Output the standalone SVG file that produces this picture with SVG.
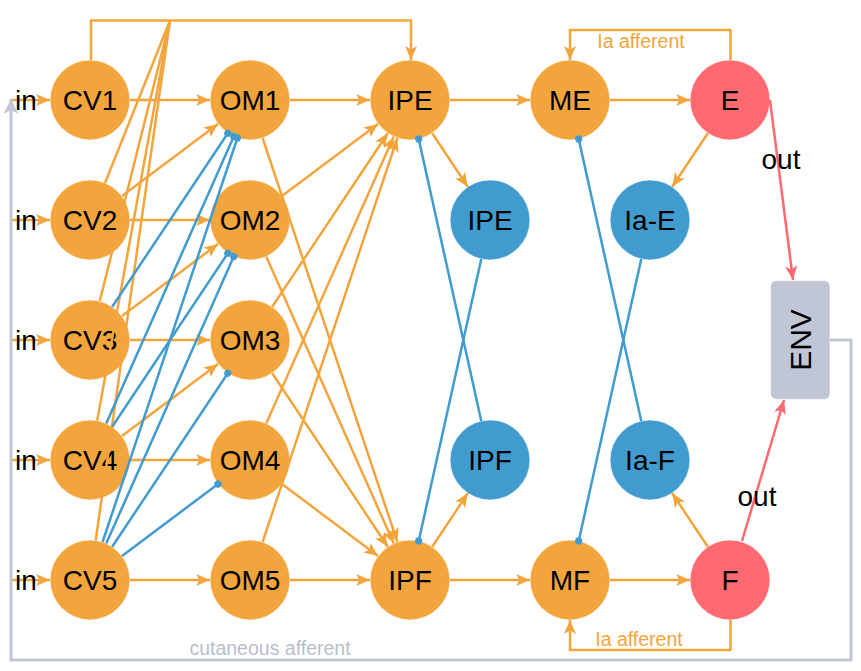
<svg xmlns="http://www.w3.org/2000/svg" width="861" height="671" viewBox="0 0 861 671">
<style>
.n circle{stroke:#fff;stroke-width:1.2;stroke-opacity:0.6}
.o{fill:#f3a53d}.b{fill:#429bcf}.r{fill:#ff6a70}
.n text,.lbl{font-family:"Liberation Sans",Arial,sans-serif;font-size:28px;fill:#000;text-anchor:middle}
.ex{stroke:#f3a53d;stroke-width:2.5;fill:none;marker-end:url(#ao)}
.ln{stroke:#f3a53d;stroke-width:2.5;fill:none}
.in{stroke:#429bcf;stroke-width:2.5;fill:none;marker-end:url(#dot)}
.rd{stroke:#ff6a70;stroke-width:2.5;fill:none;marker-end:url(#ar)}
.gy{stroke:#c1c6d7;stroke-width:3;fill:none;marker-end:url(#ag)}
.sm{font-family:"Liberation Sans",Arial,sans-serif;font-size:19.5px;text-anchor:middle}
</style>
<defs>
<marker id="ao" markerUnits="userSpaceOnUse" markerWidth="16" markerHeight="14" refX="14" refY="6" orient="auto"><path d="M0,0 L14,6 L0,12 L3.5,6 Z" fill="#f3a53d"/></marker>
<marker id="ar" markerUnits="userSpaceOnUse" markerWidth="16" markerHeight="14" refX="14" refY="6" orient="auto"><path d="M0,0 L14,6 L0,12 L3.5,6 Z" fill="#ff6a70"/></marker>
<marker id="ag" markerUnits="userSpaceOnUse" markerWidth="18" markerHeight="18" refX="15" refY="7.5" orient="auto"><path d="M0,0 L15,7.5 L0,15 L4,7.5 Z" fill="#c1c6d7"/></marker>
<marker id="dot" markerUnits="userSpaceOnUse" markerWidth="9" markerHeight="9" refX="4.5" refY="4.5" orient="auto"><circle cx="4.5" cy="4.5" r="3.6" fill="#429bcf"/></marker>
</defs>

<g id="CV1" class="n"><circle class="o" cx="90" cy="100" r="40"/><text x="90" y="110">CV1</text></g>
<g id="CV2" class="n"><circle class="o" cx="90" cy="220" r="40"/><text x="90" y="230">CV2</text></g>
<g id="CV3" class="n"><circle class="o" cx="90" cy="340" r="40"/><text x="90" y="350">CV3</text></g>
<g id="CV4" class="n"><circle class="o" cx="90" cy="460" r="40"/><text x="90" y="470">CV4</text></g>
<g id="CV5" class="n"><circle class="o" cx="90" cy="580" r="40"/><text x="90" y="590">CV5</text></g>
<g id="OM1" class="n"><circle class="o" cx="250" cy="100" r="40"/><text x="250" y="110">OM1</text></g>
<g id="OM2" class="n"><circle class="o" cx="250" cy="220" r="40"/><text x="250" y="230">OM2</text></g>
<g id="OM3" class="n"><circle class="o" cx="250" cy="340" r="40"/><text x="250" y="350">OM3</text></g>
<g id="OM4" class="n"><circle class="o" cx="250" cy="460" r="40"/><text x="250" y="470">OM4</text></g>
<g id="OM5" class="n"><circle class="o" cx="250" cy="580" r="40"/><text x="250" y="590">OM5</text></g>
<g id="IPE" class="n"><circle class="o" cx="410" cy="100" r="40"/><text x="410" y="110">IPE</text></g>
<g id="IPF" class="n"><circle class="o" cx="410" cy="580" r="40"/><text x="410" y="590">IPF</text></g>
<g id="IPE-b" class="n"><circle class="b" cx="490" cy="220" r="40"/><text x="490" y="230">IPE</text></g>
<g id="IPF-b" class="n"><circle class="b" cx="490" cy="460" r="40"/><text x="490" y="470">IPF</text></g>
<g id="ME" class="n"><circle class="o" cx="570" cy="100" r="40"/><text x="570" y="110">ME</text></g>
<g id="MF" class="n"><circle class="o" cx="570" cy="580" r="40"/><text x="570" y="590">MF</text></g>
<g id="Ia-E" class="n"><circle class="b" cx="650" cy="220" r="40"/><text x="650" y="230">Ia-E</text></g>
<g id="Ia-F" class="n"><circle class="b" cx="650" cy="460" r="40"/><text x="650" y="470">Ia-F</text></g>
<g id="E" class="n"><circle class="r" cx="730" cy="100" r="40"/><text x="730" y="110">E</text></g>
<g id="F" class="n"><circle class="r" cx="730" cy="580" r="40"/><text x="730" y="590">F</text></g>
<g id="ENV" class="n"><rect x="770.5" y="280.5" width="59.5" height="119" rx="6" fill="#c1c6d7" stroke="#fff" stroke-opacity="0.6"/><text transform="translate(800,340) rotate(-90)" x="0" y="10.7" style="font-size:30px">ENV</text></g>

<g id="connectors">
<path class="ex" d="M10,100H50"/><path class="ex" d="M10,220H50"/><path class="ex" d="M10,340H50"/><path class="ex" d="M10,460H50"/><path class="ex" d="M10,580H50"/>
<path class="ex" d="M130,100H210"/>
<path class="ex" d="M122,196L218,124"/>
<path class="ex" d="M130,220H210"/>
<path class="ex" d="M122,316L218,244"/>
<path class="ex" d="M130,340H210"/>
<path class="ex" d="M122,436L218,364"/>
<path class="ex" d="M130,460H210"/>
<path class="ex" d="M130,580H210"/>
<path class="ex" d="M91,60V20.5H411V60"/>
<path class="ln" d="M105,183L170,20.5"/>
<path class="ln" d="M99.8,301L170,20.5"/>
<path class="ln" d="M97.2,420.6L170,20.5"/>
<path class="ln" d="M95.7,540.4L170,20.5"/>
<path class="in" d="M112.2,306.7L227.8,133.3"/>
<path class="in" d="M106.2,423.5L233.8,136.5"/>
<path class="in" d="M102.6,542L237.4,138"/>
<path class="in" d="M112.2,426.7L227.8,253.3"/>
<path class="in" d="M106.2,543.5L233.8,256.5"/>
<path class="in" d="M112.2,546.7L227.8,373.3"/>
<path class="in" d="M122,556L218,484"/>
<path class="ex" d="M290,100H370"/>
<path class="ex" d="M282,196L378,124"/>
<path class="ex" d="M272.2,306.7L387.8,133.3"/>
<path class="ex" d="M266.2,423.5L393.8,136.5"/>
<path class="ex" d="M262.6,542L397.4,138"/>
<path class="ex" d="M262.6,138L397.4,542"/>
<path class="ex" d="M266.2,256.5L393.8,543.5"/>
<path class="ex" d="M272.2,373.3L387.8,546.7"/>
<path class="ex" d="M282,484L378,556"/>
<path class="ex" d="M290,580H370"/>
<path class="ex" d="M432.2,133.3L467.8,186.7"/>
<path class="ex" d="M432.2,546.7L467.8,493.3"/>
<path class="in" d="M481.3,421L418.7,139"/>
<path class="in" d="M481.3,259L418.7,541"/>
<path class="ex" d="M450,100H530"/>
<path class="ex" d="M450,580H530"/>
<path class="ex" d="M610,100H690"/>
<path class="ex" d="M610,580H690"/>
<path class="in" d="M641.3,421L578.7,139"/>
<path class="in" d="M641.3,259L578.7,541"/>
<path class="ex" d="M707.8,133.3L672.2,186.7"/>
<path class="ex" d="M707.8,546.7L672.2,493.3"/>
<path class="ex" d="M730.5,60V30H570V60"/>
<path class="ex" d="M730.5,620V650H570V620"/>
<path class="rd" d="M770,100L793,280"/>
<path class="rd" d="M742,541L784,400"/>
<path class="gy" d="M830,340H851V660H11V99"/>
</g>

<g id="labels">
<text class="lbl" x="26" y="110">in</text>
<text class="lbl" x="26" y="230">in</text>
<text class="lbl" x="26" y="350">in</text>
<text class="lbl" x="26" y="470">in</text>
<text class="lbl" x="26" y="590">in</text>
<text class="lbl" x="781" y="169">out</text>
<text class="lbl" x="757" y="506">out</text>
<text class="sm" x="641" y="48" fill="#f3a53d">Ia afferent</text>
<text class="sm" x="639" y="646" fill="#f3a53d">Ia afferent</text>
<text class="sm" x="270" y="655" fill="#b9bdcc">cutaneous afferent</text>
</g>
</svg>
